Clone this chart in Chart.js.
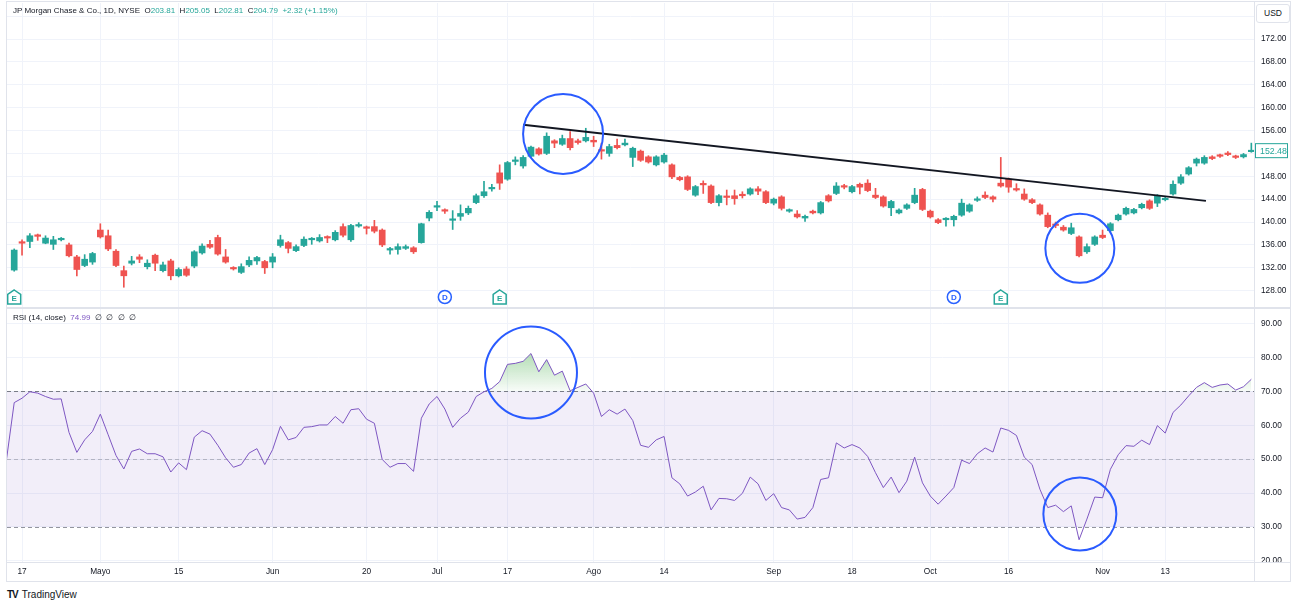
<!DOCTYPE html>
<html lang="es">
<head>
<meta charset="UTF-8">
<title>JP Morgan Chase &amp; Co. - 1D - RSI</title>
<script src="https://cdn.jsdelivr.net/npm/chart.js"></script>
<style>
  html, body { margin: 0; padding: 0; background: #fff; }
  body { width: 1299px; height: 607px; position: relative; overflow: hidden;
         font-family: "Liberation Sans", Arial, sans-serif; color: #131722; }
  canvas { position: absolute; left: 0; }
  #priceCanvas { top: 0; }
  #rsiCanvas { top: 308px; }
  .line { position: absolute; background: #e0e3eb; }
  .legend { position: absolute; left: 13px; font-size: 8px; white-space: nowrap; }
  .legend .up { color: #26a69a; }
  .legend .rsi { color: #7e57c2; }
  #usd { position: absolute; left: 1256px; top: 4px; width: 32px; height: 17px; border: 1px solid #e0e3eb;
         border-radius: 3px; font-size: 8.5px; line-height: 17px; text-align: center; background: #fff; }
  #logo { position: absolute; left: 7px; top: 589px; font-size: 10px; color: #131722; white-space: nowrap; }
  #logo b { font-weight: 900; letter-spacing: -1px; margin-right: 4px; font-size: 10px; }
</style>
</head>
<body>
<canvas id="priceCanvas" width="1299" height="308"></canvas>
<canvas id="rsiCanvas" width="1299" height="274"></canvas>

<div class="line" style="left:6px;top:1px;width:1285px;height:1px"></div>
<div class="line" style="left:6px;top:1px;width:1px;height:581px"></div>
<div class="line" style="left:1290px;top:1px;width:1px;height:581px"></div>
<div class="line" style="left:1254px;top:1px;width:1px;height:581px"></div>
<div class="line" style="left:6px;top:307px;width:1285px;height:2px"></div>
<div class="line" style="left:6px;top:562px;width:1285px;height:1px"></div>
<div class="line" style="left:6px;top:581px;width:1285px;height:1px"></div>

<div class="legend" style="top:6px">JP Morgan Chase &amp; Co., 1D, NYSE&nbsp;&nbsp;O<span class="up">203.81</span>&nbsp;&nbsp;H<span class="up">205.05</span>&nbsp;&nbsp;L<span class="up">202.81</span>&nbsp;&nbsp;C<span class="up">204.79</span>&nbsp;&nbsp;<span class="up">+2.32 (+1.15%)</span></div>
<div class="legend" style="top:313px">RSI (14, close)&nbsp;&nbsp;<span class="rsi">74.99</span>&nbsp;&nbsp;∅&nbsp;&nbsp;∅&nbsp;&nbsp;∅&nbsp;&nbsp;∅</div>
<div id="usd">USD</div>
<div id="logo"><b>TV</b>TradingView</div>

<script>
// trading-day index of the first candle / first RSI point (0 = 17 Apr)
const candleStart = -1;
const rsiStart = -2;

const opens = [
  131.6,136.5,136.6,137.7,136.3,136.1,136.9,136.0,133.9,132.4,
  133.0,138.6,137.6,134.9,131.5,132.8,133.9,132.2,134.2,131.5,
  133.2,130.6,131.8,132.3,134.6,136.1,137.3,133.9,132.0,131.2,
  132.5,133.2,133.1,133.0,135.9,136.4,135.0,135.9,136.9,136.7,
  137.4,136.9,139.2,136.9,139.3,139.1,139.2,138.6,135.1,135.2,
  135.4,135.5,136.4,140.7,142.6,142.1,140.3,141.0,141.6,143.4,
  144.6,145.8,148.6,147.5,150.6,149.8,151.5,152.8,152.0,154.2,
  153.6,154.6,154.2,154.2,154.3,152.6,152.0,153.4,153.5,151.3,
  152.4,151.4,150.0,150.5,150.0,147.8,147.9,144.7,146.7,146.3,
  143.4,144.5,144.6,144.8,144.9,145.8,145.3,143.3,144.4,141.9,
  141.4,140.7,141.9,141.6,144.6,145.0,146.3,145.3,146.6,146.8,
  144.7,144.4,142.5,141.6,142.4,143.4,145.7,141.9,140.4,140.4,
  140.4,141.2,141.9,143.8,144.7,144.4,146.8,147.5,145.8,144.9,
  143.9,143.0,141.2,139.6,139.1,138.0,137.4,134.8,136.1,137.7,
  138.5,140.4,141.4,141.6,142.5,143.7,143.3,143.9,144.9,146.8,
  148.4,150.3,150.3,151.4,151.7,152.0,151.5,151.4,152.3
];
const highs = [
  135.3,136.9,138.0,137.9,137.6,137.5,137.3,136.3,134.2,134.3,
  134.7,139.7,138.6,135.2,132.3,134.0,134.3,133.4,134.4,133.0,
  133.5,132.0,132.2,135.0,136.2,136.8,137.7,135.2,132.2,132.7,
  133.9,134.0,133.3,134.5,137.7,136.6,136.0,137.4,137.3,137.8,
  137.6,138.5,139.7,139.6,139.9,139.3,140.3,138.8,135.6,136.2,
  136.0,135.7,139.8,142.0,143.6,142.3,142.0,143.0,142.8,144.9,
  147.1,146.6,150.0,150.6,151.4,151.6,153.3,153.0,155.6,154.4,
  155.2,155.8,154.5,156.4,155.0,153.8,153.6,154.5,154.5,153.1,
  152.6,151.6,151.6,152.0,150.2,148.0,148.1,146.4,147.2,146.5,
  144.8,145.6,145.6,145.3,146.0,146.2,145.5,144.2,144.6,142.3,
  142.0,141.2,142.1,143.6,144.8,146.9,146.6,146.4,146.8,147.4,
  145.9,144.6,143.8,142.3,143.2,145.9,145.9,142.1,140.6,140.8,
  141.2,144.0,143.2,144.4,145.3,144.6,151.3,147.7,146.7,145.8,
  144.1,143.2,141.6,140.0,139.4,139.8,137.6,136.2,137.6,138.6,
  139.9,141.4,142.6,142.4,143.3,143.9,144.8,144.5,147.2,148.3,
  149.7,151.2,151.6,151.6,151.9,152.3,151.7,152.0,153.8
];
const lows = [
  131.4,134.2,135.5,136.8,136.2,135.2,136.7,133.9,130.6,132.2,
  132.6,137.2,135.0,132.2,128.6,132.5,132.9,131.8,131.5,131.3,
  129.9,130.4,130.5,132.0,134.4,135.4,134.2,132.8,131.6,131.0,
  132.2,132.6,131.0,132.0,135.6,134.6,134.8,135.7,136.1,136.5,
  136.4,136.7,137.4,136.6,139.1,137.9,138.1,135.7,134.4,134.4,
  135.2,134.5,136.3,140.2,142.0,141.5,138.7,140.3,141.3,143.2,
  144.3,145.4,145.7,147.3,150.0,149.4,151.3,151.7,151.8,153.0,
  153.4,152.6,153.6,154.0,153.2,151.0,151.5,152.8,153.3,149.7,
  150.6,150.3,149.8,150.3,147.6,147.2,145.5,144.5,145.0,143.2,
  142.8,143.0,143.1,144.2,144.7,144.8,143.2,143.0,142.1,141.7,
  140.7,140.1,141.4,141.4,143.5,144.8,145.8,145.1,144.9,145.3,
  144.1,142.6,141.1,141.4,142.2,143.2,142.0,140.7,139.7,139.3,
  139.3,141.0,141.7,143.6,144.1,143.5,146.1,145.2,145.4,143.8,
  143.2,141.2,139.0,139.0,138.4,137.8,133.9,134.5,135.9,137.1,
  138.3,140.2,141.2,141.4,142.3,142.2,142.7,143.7,144.7,146.6,
  148.2,149.8,150.1,150.9,151.3,151.6,151.1,151.2,152.2
];
const closes = [
  135.1,136.3,137.6,137.5,137.2,136.9,137.1,134.1,131.7,133.5,
  134.5,137.4,135.3,132.4,130.6,133.2,133.5,132.8,132.8,132.5,
  130.6,131.7,130.7,134.8,135.8,135.6,134.4,133.0,131.8,132.2,
  133.3,133.8,132.0,133.9,136.9,135.4,135.7,137.0,137.1,137.3,
  137.2,138.2,137.7,139.4,139.5,138.9,138.4,136.0,135.3,135.7,
  135.7,134.8,139.7,141.7,142.8,141.9,140.5,141.5,142.4,144.6,
  145.3,146.0,146.8,150.4,150.8,151.3,153.1,151.9,155.0,153.8,
  154.6,153.0,153.9,154.8,154.0,152.4,153.2,153.0,153.8,152.9,
  150.8,150.5,151.4,151.7,147.9,147.4,145.7,146.2,146.5,143.4,
  144.6,144.3,144.1,144.6,145.8,145.4,143.4,144.0,142.4,142.1,
  140.9,141.0,141.6,143.4,143.7,146.3,146.1,146.2,146.1,145.5,
  144.3,142.8,143.6,142.1,143.0,144.7,142.2,140.9,139.9,140.6,
  141.0,143.3,143.0,144.0,144.3,144.0,146.3,146.1,145.6,144.0,
  143.4,141.4,139.2,139.4,138.6,139.0,134.1,135.7,137.4,137.3,
  139.7,141.2,142.4,142.2,143.1,142.4,144.6,144.1,146.6,147.9,
  149.5,151.0,151.3,151.1,151.5,151.8,151.3,151.8,152.48
];
const rsiValues = [
  49.6,66.7,68.0,69.9,69.5,68.5,67.7,67.8,57.9,52.0,
  55.7,58.2,63.3,57.2,51.1,47.1,52.3,53.0,51.6,51.6,
  50.7,46.2,48.9,46.9,56.5,58.4,57.4,54.1,50.4,47.6,
  48.4,51.8,53.1,48.4,52.8,59.7,55.7,56.4,59.4,59.6,
  60.1,60.1,62.6,60.6,64.6,64.9,61.8,60.6,49.9,47.6,
  48.7,48.7,46.4,62.1,66.3,68.5,64.8,59.4,62.1,63.9,
  68.5,69.9,70.9,72.9,78.0,78.3,78.9,81.2,75.8,79.4,
  74.8,76.0,70.2,71.2,72.2,69.5,62.6,64.6,63.3,64.8,
  61.4,54.1,53.5,55.7,56.7,44.5,42.7,39.1,40.3,42.0,
  35.0,38.4,38.3,37.8,39.9,44.7,42.7,37.8,39.8,35.7,
  35.0,32.3,32.8,35.7,44.0,44.5,54.8,53.3,54.3,53.3,
  50.8,46.0,41.6,44.7,40.1,43.5,50.6,43.0,39.1,36.7,
  39.1,41.6,49.7,48.7,51.6,53.3,52.1,59.2,58.5,57.0,
  50.6,48.4,41.1,35.7,36.4,34.5,36.2,26.2,32.3,38.8,
  38.6,47.0,51.3,54.0,53.8,55.6,54.3,59.9,57.7,63.8,
  66.0,68.7,71.2,72.6,71.2,71.9,72.2,70.4,71.4,73.6
];

// time axis
const tickIdx = [0, 10, 20, 32, 44, 53, 62, 73, 82, 96, 106, 116, 126, 138, 146];
const tickLabels = ['17', 'Mayo', '15', 'Jun', '20', 'Jul', '17', 'Ago', '14', 'Sep', '18', 'Oct', '16', 'Nov', '13'];
const priceTicks = [128, 132, 136, 140, 144, 148, 152, 156, 160, 164, 168, 172, 176];
const rsiTicks = [20, 30, 40, 50, 60, 70, 80, 90];

// drawn trend line (two anchor points: index, price)
const trendX = [64, 151.2];
const trendY = [157.0, 143.7];

// earnings (E) and dividend (D) flags
const eventIdx = [-1, 54, 61, 119, 125];
const eventType = ['E', 'D', 'E', 'D', 'E'];

// hand-drawn blue circles
const priceCircles = [{ i: 69.1, v: 155.4, r: 40 }, { i: 135.1, v: 135.4, r: 34.5 }];
const rsiCircles = [{ i: 65.0, v: 75.6, r: 46 }, { i: 135.1, v: 33.8, r: 36.5 }];

const X_MIN = -1.92, X_MAX = 157.34;
const PRICE_MIN = 124.97, PRICE_MAX = 178.3;
const RSI_MIN = 19.62, RSI_MAX = 94.5;
const RSI_UPPER = 70, RSI_MID = 50, RSI_LOWER = 30;

const UP = '#26a69a', DOWN = '#ef5350', GRID = '#f0f3fa';
const tickFont = { family: '"Liberation Sans", Arial, sans-serif', size: 8.3 };

const bodyData = [], wickData = [], candleColors = [];
opens.forEach((o, k) => {
  const x = candleStart + k;
  bodyData.push({ x: x, y: [o, closes[k]] });
  wickData.push({ x: x, y: [lows[k], highs[k]] });
  candleColors.push(closes[k] >= o ? UP : DOWN);
});
const rsiData = rsiValues.map((v, k) => ({ x: rsiStart + k, y: v }));
const trendData = trendX.map((x, k) => ({ x: x, y: trendY[k] }));

// keep the plot area where the panes are, whatever size the labels have
function noPad(s) { s.paddingTop = 0; s.paddingBottom = 0; s.paddingLeft = 0; s.paddingRight = 0; }

function xScale(showLabels) {
  return {
    type: 'linear', min: X_MIN, max: X_MAX, offset: false,
    afterBuildTicks: s => { s.ticks = tickIdx.map(v => ({ value: v })); },
    ticks: {
      display: showLabels, autoSkip: false, maxRotation: 0, padding: 5,
      color: '#131722', font: tickFont,
      callback: v => tickLabels[tickIdx.indexOf(v)]
    },
    grid: { color: GRID, drawTicks: false, offset: false },
    border: { display: false },
    afterFit: s => { s.height = showLabels ? 20 : 0; noPad(s); }
  };
}

function yScale(min, max, ticks, fmt) {
  return {
    position: 'right', min: min, max: max,
    afterBuildTicks: s => { s.ticks = ticks.map(v => ({ value: v })); },
    ticks: { color: '#131722', font: tickFont, padding: 7, callback: fmt },
    grid: { color: GRID, drawTicks: false },
    border: { display: false },
    afterFit: s => { s.width = 45; noPad(s); }
  };
}

function circlesPlugin(list) {
  return {
    id: 'circles',
    afterDatasetsDraw(chart) {
      const { ctx, scales: { x, y } } = chart;
      ctx.save();
      ctx.strokeStyle = '#2a5bff';
      ctx.lineWidth = 2;
      list.forEach(c => {
        ctx.beginPath();
        ctx.arc(x.getPixelForValue(c.i), y.getPixelForValue(c.v), c.r, 0, Math.PI * 2);
        ctx.stroke();
      });
      ctx.restore();
    }
  };
}

const eventFlags = {
  id: 'eventFlags',
  afterDatasetsDraw(chart) {
    const { ctx, chartArea, scales: { x } } = chart;
    const cy = chartArea.bottom - 11;
    ctx.save();
    ctx.lineWidth = 1.5;
    ctx.font = 'bold 8px "Liberation Sans", Arial, sans-serif';
    ctx.textAlign = 'center';
    ctx.textBaseline = 'middle';
    eventIdx.forEach((idx, k) => {
      const cx = x.getPixelForValue(idx);
      if (eventType[k] === 'E') {
        ctx.strokeStyle = UP; ctx.fillStyle = '#fff';
        ctx.beginPath();
        ctx.moveTo(cx, cy - 7);
        ctx.lineTo(cx + 6.5, cy - 2.5);
        ctx.lineTo(cx + 6.5, cy + 7);
        ctx.lineTo(cx - 6.5, cy + 7);
        ctx.lineTo(cx - 6.5, cy - 2.5);
        ctx.closePath();
        ctx.fill(); ctx.stroke();
        ctx.fillStyle = UP;
        ctx.fillText('E', cx, cy + 1.5);
      } else {
        ctx.strokeStyle = '#2962ff'; ctx.fillStyle = '#fff';
        ctx.beginPath();
        ctx.arc(cx, cy, 6.5, 0, Math.PI * 2);
        ctx.fill(); ctx.stroke();
        ctx.fillStyle = '#2962ff';
        ctx.fillText('D', cx, cy + 0.5);
      }
    });
    ctx.restore();
  }
};

const lastPriceTag = {
  id: 'lastPriceTag',
  afterDraw(chart) {
    const { ctx, chartArea, scales: { y } } = chart;
    const last = closes[closes.length - 1];
    const py = y.getPixelForValue(last);
    const left = chartArea.right + 1;
    ctx.save();
    ctx.fillStyle = '#fff';
    ctx.strokeStyle = UP;
    ctx.lineWidth = 1;
    ctx.fillRect(left, py - 7.5, 33, 15);
    ctx.strokeRect(left + 0.5, py - 7, 32, 14);
    ctx.fillStyle = UP;
    ctx.font = '8.8px "Liberation Sans", Arial, sans-serif';
    ctx.textAlign = 'left';
    ctx.textBaseline = 'middle';
    ctx.fillText(last.toFixed(2), left + 5, py + 0.5);
    ctx.restore();
  }
};

const rsiBands = {
  id: 'rsiBands',
  beforeDatasetsDraw(chart) {
    const { ctx, chartArea: a, scales: { y } } = chart;
    const yU = y.getPixelForValue(RSI_UPPER), yM = y.getPixelForValue(RSI_MID), yL = y.getPixelForValue(RSI_LOWER);
    ctx.save();
    ctx.fillStyle = 'rgba(126,87,194,0.1)';
    ctx.fillRect(a.left, yU, a.right - a.left, yL - yU);
    ctx.setLineDash([4, 3]);
    ctx.lineWidth = 1;
    [[yU, '#787b86'], [yM, 'rgba(120,123,134,0.45)'], [yL, 'rgba(120,123,134,0.8)']].forEach(([py, c]) => {
      ctx.strokeStyle = c;
      ctx.beginPath();
      ctx.moveTo(a.left, Math.round(py) + 0.5);
      ctx.lineTo(a.right, Math.round(py) + 0.5);
      ctx.stroke();
    });
    ctx.restore();
  }
};

const priceChart = new Chart(document.getElementById('priceCanvas'), {
  type: 'bar',
  data: {
    datasets: [
      { type: 'line', label: 'Tendencia', data: trendData, borderColor: '#131722', borderWidth: 2,
        pointRadius: 0, fill: false, order: 0 },
      { label: 'Cuerpo', data: bodyData, backgroundColor: candleColors, barThickness: 6,
        minBarLength: 1.5, grouped: false, order: 1 },
      { label: 'Mecha', data: wickData, backgroundColor: candleColors, barThickness: 1,
        grouped: false, order: 2 }
    ]
  },
  options: {
    responsive: false,
    animation: false,
    layout: { padding: { left: 7, top: 3, right: 0, bottom: 0 } },
    plugins: { legend: { display: false }, tooltip: { enabled: false } },
    scales: {
      x: xScale(false),
      y: yScale(PRICE_MIN, PRICE_MAX, priceTicks, v => (v >= 176 ? '' : v.toFixed(2)))
    }
  },
  plugins: [circlesPlugin(priceCircles), eventFlags, lastPriceTag]
});

const rsiChart = new Chart(document.getElementById('rsiCanvas'), {
  type: 'line',
  data: {
    datasets: [{
      label: 'RSI', data: rsiData, borderColor: '#7e57c2', borderWidth: 1, pointRadius: 0, tension: 0,
      fill: { target: { value: RSI_UPPER }, above: 'rgba(76,175,80,0.25)', below: 'rgba(0,0,0,0)' }
    }]
  },
  options: {
    responsive: false,
    animation: false,
    layout: { padding: { left: 7, top: 0, right: 0, bottom: 0 } },
    plugins: { legend: { display: false }, tooltip: { enabled: false } },
    scales: {
      x: xScale(true),
      y: yScale(RSI_MIN, RSI_MAX, rsiTicks, v => v.toFixed(2))
    }
  },
  plugins: [rsiBands, circlesPlugin(rsiCircles)]
});

// green gradient for the overbought zone
const ry = rsiChart.scales.y;
const grad = rsiChart.ctx.createLinearGradient(0, ry.getPixelForValue(82), 0, ry.getPixelForValue(RSI_UPPER));
grad.addColorStop(0, 'rgba(76,175,80,0.45)');
grad.addColorStop(1, 'rgba(76,175,80,0.04)');
rsiChart.data.datasets[0].fill.above = grad;
rsiChart.update('none');
</script>
</body>
</html>
